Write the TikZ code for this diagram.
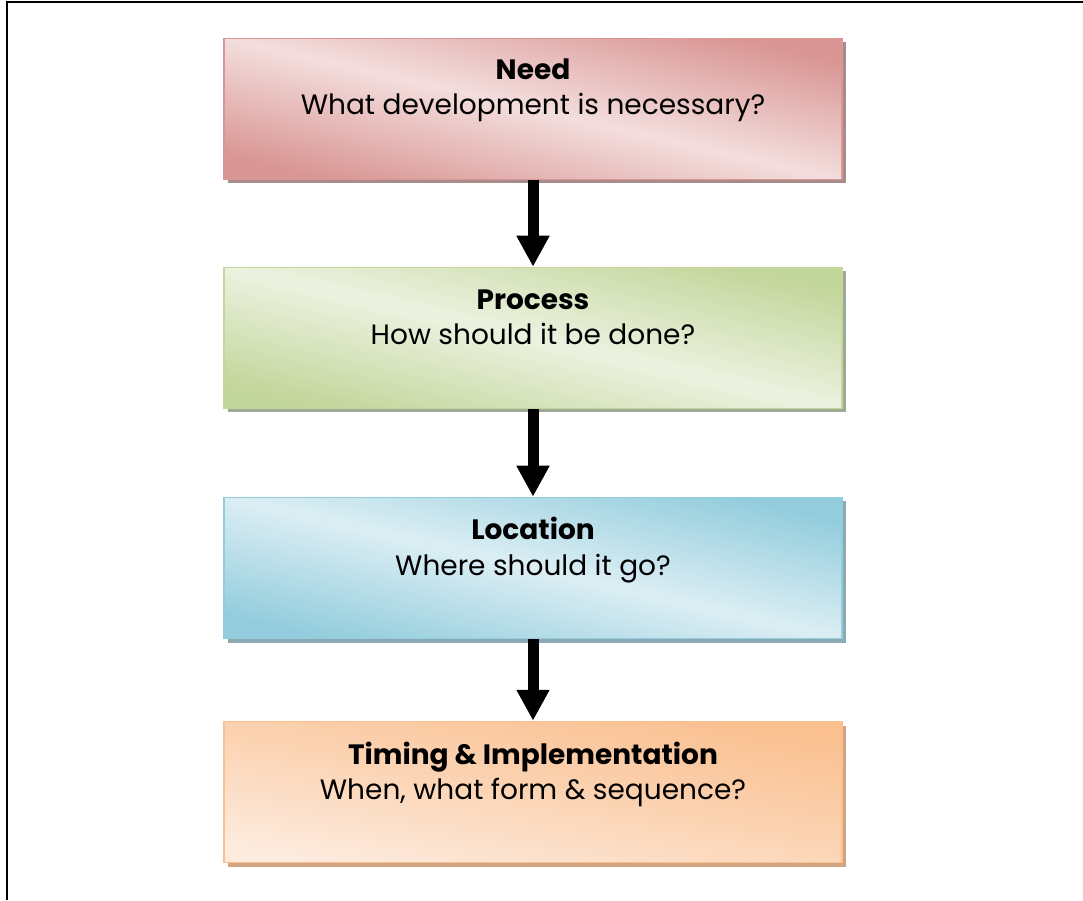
\documentclass[tikz,border=0pt]{standalone}
\usepackage{fontspec}
\setmainfont{Poppins}
\usetikzlibrary{arrows.meta,shadows}
\definecolor{needdark}{RGB}{217,150,148}
\definecolor{needlight}{RGB}{243,222,221}
\definecolor{needshadow}{RGB}{168,140,140}
\definecolor{procdark}{RGB}{195,214,155}
\definecolor{proclight}{RGB}{236,242,224}
\definecolor{procshadow}{RGB}{160,168,150}
\definecolor{locdark}{RGB}{147,205,221}
\definecolor{loclight}{RGB}{220,238,244}
\definecolor{locshadow}{RGB}{140,170,180}
\definecolor{timdark}{RGB}{250,192,144}
\definecolor{timlight}{RGB}{253,235,222}
\definecolor{timshadow}{RGB}{210,165,130}
\tikzset{
  box/.style={minimum width=618pt, minimum height=141pt, inner sep=0pt, line width=1.5pt},
  boxshadow/.style={drop shadow={shadow xshift=4pt, shadow yshift=-4pt, fill=#1, opacity=1}},
  title/.style={anchor=base, font=\fontsize{28}{34}\selectfont\bfseries},
  subtitle/.style={anchor=base, font=\fontsize{28}{34}\selectfont},
  flowarrow/.style={line width=11pt, -{Triangle[length=31pt,width=31pt]}},
}
\begin{document}
\begin{tikzpicture}[x=1pt,y=1pt]
\useasboundingbox (0,0) rectangle (1083,900);
\draw[line width=2pt] (6.5,0) -- (6.5,897.5) -- (1083,897.5);
% boxes
\node[box, boxshadow=needshadow, draw=needdark, top color=needdark, bottom color=needdark, middle color=needlight, shading angle=-13] (need) at (533,791) {};
\node[box, boxshadow=procshadow, draw=procdark, top color=procdark, bottom color=procdark, middle color=proclight, shading angle=-13] (proc) at (533,562) {};
\node[box, boxshadow=locshadow, draw=locdark, top color=locdark, bottom color=locdark, middle color=loclight, shading angle=-13] (loc) at (533,332) {};
\node[box, boxshadow=timshadow, draw=timdark, top color=timdark, bottom color=timlight, middle color={timdark!55!timlight}, shading angle=-10] (tim) at (533,108) {};
% texts
\node[title] (needt) at (533,820) {Need};
\node[subtitle] (needs) at (533,785) {What development is necessary?};
\node[title] (proct) at (533,590) {Process};
\node[subtitle] (procs) at (533,555) {How should it be done?};
\node[title] (loct) at (533,360) {Location};
\node[subtitle] (locs) at (533,325) {Where should it go?};
\node[title] (timt) at (533,136) {Timing \& Implementation};
\node[subtitle] (tims) at (533,101) {When, what form \& sequence?};
% arrows
\draw[flowarrow] (need.south) -- (proc.north);
\draw[flowarrow] (proc.south) -- (loc.north);
\draw[flowarrow] (loc.south) -- (tim.north);
\end{tikzpicture}
\end{document}
